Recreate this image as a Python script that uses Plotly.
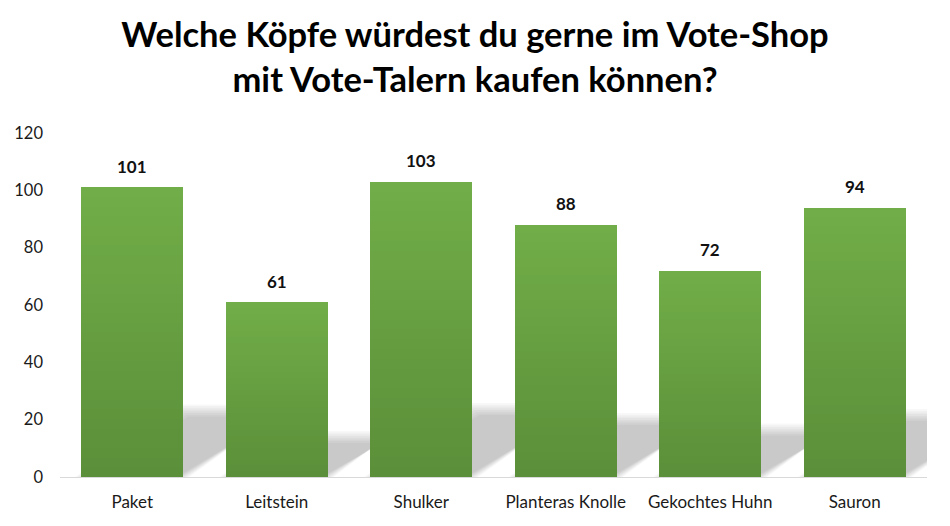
import plotly.graph_objects as go

categories = ["Paket", "Leitstein", "Shulker", "Planteras Knolle", "Gekochtes Huhn", "Sauron"]
values = [101, 61, 103, 88, 72, 94]
y_ticks = [0, 20, 40, 60, 80, 100, 120]
title_text = "Welche Köpfe würdest du gerne im Vote-Shop<br>mit Vote-Talern kaufen können?"

FONT = "Lato"
TOP_RGB = (113, 174, 72)
BOTTOM_RGB = (91, 142, 57)
N_SLICES = 30
BARGAP = 0.295

# the page body has an 8px margin, so the figure is drawn 8px smaller
W, H = 942, 518
M_L, M_R, M_T, M_B = 52, 23, 125, 49
px_per_cat = (W - M_L - M_R) / len(categories)
px_per_unit = (H - M_T - M_B) / (y_ticks[-1] - y_ticks[0])

xs = list(range(len(categories)))
fig = go.Figure()

# stacked slices to emulate the vertical gradient of each bar
for j in range(N_SLICES):
    t = (j + 0.5) / N_SLICES
    col = tuple(round(BOTTOM_RGB[c] + (TOP_RGB[c] - BOTTOM_RGB[c]) * t) for c in range(3))
    fig.add_trace(go.Bar(
        x=xs, y=[v / N_SLICES for v in values],
        marker=dict(color="rgb(%d,%d,%d)" % col, line=dict(width=0)),
        hoverinfo="skip", showlegend=False,
    ))

# perspective shadows (skewed, squashed, soft) behind the bars
half = (1 - BARGAP) / 2
shapes = []
offsets = [-6, -4.3, -2.6, -0.9, 0.9, 2.6, 4.3, 6]
alpha = 1 - (1 - 0.21) ** (1 / len(offsets))
for i, v in zip(xs, values):
    top = 0.23 * v
    k = 0.0069 * v * px_per_unit / 2.867 * 145.2 / px_per_cat
    for s in offsets:
        sx = s / px_per_cat
        sy = s / px_per_unit
        L, R = i - half - sx, i + half + sx
        path = "M %f,0 L %f,0 L %f,%f L %f,%f Z" % (
            L, R, R + k, top + sy, L + k, top + sy)
        shapes.append(dict(type="path", path=path, xref="x", yref="y",
                           fillcolor="rgba(0,0,0,%.4f)" % alpha,
                           line=dict(width=0), layer="below"))

annotations = [dict(x=i, y=v, text="<b>%d</b>" % v, showarrow=False,
                    xref="x", yref="y", yanchor="middle", yshift=21,
                    font=dict(family=FONT, size=17, color="#111111"))
               for i, v in zip(xs, values)]

fig.update_layout(
    width=W, height=H,
    margin=dict(l=M_L, r=M_R, t=M_T, b=M_B, pad=0, autoexpand=False),
    paper_bgcolor="white", plot_bgcolor="white",
    barmode="stack", bargap=BARGAP,
    shapes=shapes, annotations=annotations,
    showlegend=False,
    title=dict(text="<b>" + title_text + "</b>", x=(475 - 8) / W, xanchor="center",
               xref="container", y=1 - 39 / H, yanchor="middle", yref="container",
               font=dict(family=FONT, size=34.5, color="#000000")),
    font=dict(family=FONT, size=16, color="#1a1a1a"),
)
fig.update_xaxes(range=[-0.5, len(categories) - 0.5], tickvals=xs, ticktext=categories,
                 showgrid=False, zeroline=False, showline=True, linecolor="#d9d9d9",
                 linewidth=1, ticks="", ticklabelstandoff=10, automargin=False,
                 tickfont=dict(family=FONT, size=17, color="#1a1a1a"))
fig.update_yaxes(range=[y_ticks[0], y_ticks[-1]], tickvals=y_ticks,
                 showgrid=False, zeroline=False, showline=False, ticks="",
                 ticklabelstandoff=16, automargin=False,
                 tickfont=dict(family=FONT, size=16.5, color="#1a1a1a"))

fig.write_html("out.html")
